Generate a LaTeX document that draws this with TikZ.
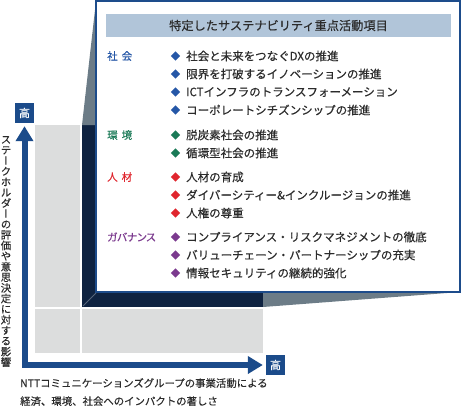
\documentclass[tikz,border=0pt]{standalone}
\usepackage{fontspec}
\setmainfont{Noto Sans CJK JP}[FakeBold=0.35]
\newfontfamily\jpvert{Noto Sans CJK JP}[RawFeature=+vert, FakeBold=0.35]
\newfontfamily\jpprop{Noto Sans CJK JP}[RawFeature=+palt, FakeBold=0.35]
\usepackage{tikz}
\usetikzlibrary{
  arrows.meta,
  shapes.geometric,
  positioning
}
\definecolor{axisBlue}{HTML}{1B4B8A}
\definecolor{cellGrey}{HTML}{DCDDDD}
\definecolor{focusNavy}{HTML}{0F2341}
\definecolor{wedgeSlate}{HTML}{6C7C87}
\definecolor{panelBlue}{HTML}{1D4C8B}
\definecolor{titleBar}{HTML}{B1C5D9}
\definecolor{textGrey}{HTML}{2B2B2B}
\definecolor{socBlue}{HTML}{2557A7}
\definecolor{envGreen}{HTML}{1A7A57}
\definecolor{hrRed}{HTML}{E0262E}
\definecolor{govPurple}{HTML}{7B3A8E}

\tikzset{
  hibox/.style={fill=axisBlue, text=white, minimum width=19pt, minimum height=20pt,
    inner sep=0pt, font=\fontsize{11}{11}\selectfont},
  axis/.style={draw=axisBlue, line width=6pt,
    {Triangle[length=15pt, width=17pt]}-{Triangle[length=15pt, width=17pt]},
    shorten <=3pt, shorten >=3pt},
  cat/.style={anchor=west, inner sep=0pt, font=\jpprop\fontsize{10.5}{10.5}\selectfont},
  dia/.style={diamond, inner sep=0pt, minimum size=9.5pt},
  item/.style={anchor=west, inner sep=0pt, text=textGrey, font=\fontsize{11.5}{11.5}\selectfont}
}

\begin{document}
\begin{tikzpicture}[x=1pt, y=-1pt]
  \useasboundingbox (0,0) rectangle (462,408);

  % matrix cells
  \fill[cellGrey] (35,125) rectangle (80,307);
  \fill[cellGrey] (35,309) rectangle (80,353);
  \fill[cellGrey] (82,309) rectangle (263,353);
  \fill[focusNavy] (82,125) rectangle (263,307);

  % zoom-out wedges
  \fill[wedgeSlate] (96,1) -- (82,125) -- (96,125) -- cycle;
  \fill[wedgeSlate] (263,292) -- (263,307) -- (460,292) -- cycle;
  \draw[focusNavy!70!white, line width=0.8pt] (83,306) -- (96,293);

  % axes
  \node[hibox] (hiy) at (24.5,113) {高};
  \node[hibox] (hix) at (275.5,365) {高};
  \draw[axis] (hiy.south) |- (hix.west);

  \node[inner sep=0pt, align=center, text=textGrey,
    font=\jpvert\fontsize{10.5}{10.6}\selectfont] (ylabel) at (6,251.5)
    {ス\\テ\\ー\\ク\\ホ\\ル\\ダ\\ー\\の\\評\\価\\や\\意\\思\\決\\定\\に\\対\\す\\る\\影\\響};
  \node[anchor=north west, inner sep=0pt, align=left, text=textGrey,
    font=\fontsize{10.4}{18}\selectfont] (xlabel) at (20,378)
    {NTTコミュニケーションズグループの事業活動による\\経済、環境、社会へのインパクトの著しさ};

  % callout panel
  \node[draw=panelBlue, line width=2pt, fill=white, minimum width=364pt,
    minimum height=291pt, inner sep=0pt] (panel) at (278,146.5) {};
  \node[fill=titleBar, text=textGrey, minimum width=345pt, minimum height=23pt,
    inner sep=0pt, font=\fontsize{12.2}{12.2}\selectfont] (title) at (278.5,25.5)
    {特定したサステナビリティ重点活動項目};

  % society
  \node[cat, text=socBlue] (soc) at (107,56) {社\hspace{4pt}会};
  \node[dia, fill=socBlue] (s1) at (175.5,56) {};
  \node[dia, fill=socBlue] (s2) at (175.5,74) {};
  \node[dia, fill=socBlue] (s3) at (175.5,92) {};
  \node[dia, fill=socBlue] (s4) at (175.5,110) {};
  \node[item] (st1) at (186,56) {社会と未来をつなぐDXの推進};
  \node[item] (st2) at (186,74) {限界を打破するイノベーションの推進};
  \node[item] (st3) at (186,92) {ICTインフラのトランスフォーメーション};
  \node[item] (st4) at (186,110) {コーポレートシチズンシップの推進};

  % environment
  \node[cat, text=envGreen] (env) at (107,135) {環\hspace{4pt}境};
  \node[dia, fill=envGreen] (e1) at (175.5,135) {};
  \node[dia, fill=envGreen] (e2) at (175.5,153) {};
  \node[item] (et1) at (186,135) {脱炭素社会の推進};
  \node[item] (et2) at (186,153) {循環型社会の推進};

  % people
  \node[cat, text=hrRed] (hr) at (107,177) {人\hspace{4pt}材};
  \node[dia, fill=hrRed] (h1) at (175.5,177) {};
  \node[dia, fill=hrRed] (h2) at (175.5,195) {};
  \node[dia, fill=hrRed] (h3) at (175.5,213) {};
  \node[item] (ht1) at (186,177) {人材の育成};
  \node[item] (ht2) at (186,195) {ダイバーシティー\&インクルージョンの推進};
  \node[item] (ht3) at (186,213) {人権の尊重};

  % governance
  \node[cat, text=govPurple] (gov) at (107,237) {ガバナンス};
  \node[dia, fill=govPurple] (g1) at (175.5,237) {};
  \node[dia, fill=govPurple] (g2) at (175.5,255) {};
  \node[dia, fill=govPurple] (g3) at (175.5,273) {};
  \node[item] (gt1) at (186,237) {コンプライアンス・リスクマネジメントの徹底};
  \node[item] (gt2) at (186,255) {バリューチェーン・パートナーシップの充実};
  \node[item] (gt3) at (186,273) {情報セキュリティの継続的強化};
\end{tikzpicture}
\end{document}
